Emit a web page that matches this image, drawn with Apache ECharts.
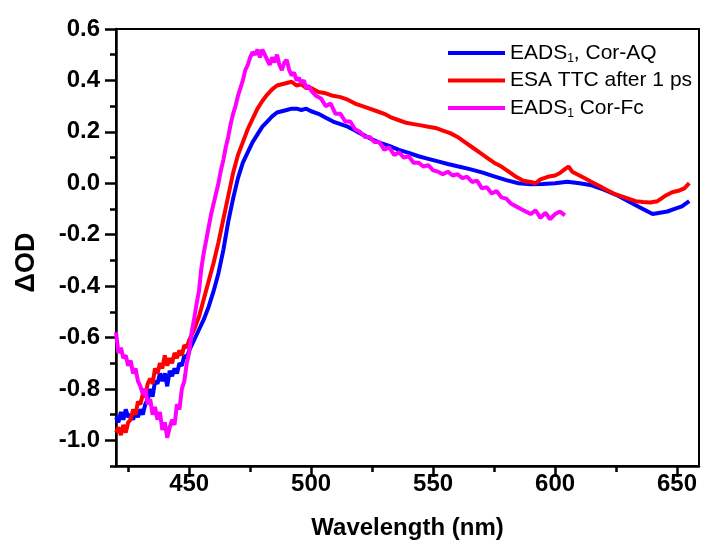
<!DOCTYPE html>
<html>
<head>
<meta charset="utf-8">
<title>Transient absorption</title>
<script src="https://cdn.jsdelivr.net/npm/echarts@6/dist/echarts.min.js"></script>
<style>
  body { margin: 0; background: #fff; }
  #chart { width: 707px; height: 551px; }
</style>
</head>
<body>
<div id="chart"></div>
<script>
// EADS1, Cor-AQ (blue)
const aqNm = [420,421,422,423,424,425,426,427,428,429,430,431,432,433,434,435,436,437,438,439,440,441,442,443,444,445,446,447,448,449,450,452,454,456,458,460,462,464,466,468,470,472,474,476,478,480,482,484,486,488,490,492,494,496,498,500,503,506,509,512,515,518,520,524,528,532,536,540,544,548,552,556,560,565,570,575,580,585,590,595,600,605,610,615,620,625,630,635,640,643,646,649,652,655]
const aqOD = [-0.91,-0.93,-0.89,-0.92,-0.88,-0.91,-0.90,-0.92,-0.89,-0.91,-0.88,-0.90,-0.86,-0.84,-0.80,-0.83,-0.77,-0.78,-0.74,-0.77,-0.74,-0.79,-0.73,-0.75,-0.72,-0.74,-0.70,-0.71,-0.67,-0.68,-0.65,-0.61,-0.57,-0.53,-0.48,-0.42,-0.35,-0.26,-0.15,-0.06,0.02,0.08,0.12,0.16,0.19,0.22,0.24,0.26,0.275,0.28,0.285,0.29,0.29,0.285,0.29,0.28,0.27,0.255,0.24,0.23,0.22,0.205,0.195,0.175,0.158,0.145,0.13,0.118,0.105,0.095,0.085,0.075,0.066,0.055,0.042,0.027,0.012,0.0,-0.004,-0.003,0.0,0.006,0.0,-0.008,-0.025,-0.045,-0.07,-0.095,-0.12,-0.115,-0.11,-0.10,-0.09,-0.07]

// ESA TTC after 1 ps (red)
const ttcNm = [420,421,422,423,424,425,426,427,428,429,430,431,432,433,434,435,436,437,438,439,440,441,442,443,444,445,446,447,448,449,450,452,454,456,458,460,462,464,466,468,470,472,474,476,478,480,482,484,486,488,490,492,494,496,498,500,503,506,509,512,515,518,521,524,527,530,533,536,539,542,545,548,551,554,557,560,563,566,569,572,575,578,581,584,587,590,592,594,597,600,602,604,605.5,607,609,612,615,618,621,624,627,630,633,636,639,642,645,648,651,653,655]
const ttcOD = [-0.97,-0.95,-0.98,-0.94,-0.97,-0.93,-0.92,-0.88,-0.90,-0.85,-0.86,-0.82,-0.83,-0.78,-0.76,-0.78,-0.72,-0.74,-0.70,-0.72,-0.67,-0.71,-0.68,-0.70,-0.66,-0.68,-0.65,-0.67,-0.63,-0.64,-0.61,-0.57,-0.52,-0.45,-0.38,-0.31,-0.23,-0.14,-0.05,0.04,0.11,0.16,0.21,0.25,0.29,0.32,0.345,0.365,0.38,0.385,0.39,0.395,0.38,0.385,0.37,0.37,0.355,0.35,0.34,0.335,0.325,0.31,0.30,0.29,0.28,0.27,0.255,0.245,0.235,0.23,0.225,0.22,0.215,0.205,0.195,0.18,0.16,0.14,0.12,0.10,0.08,0.065,0.045,0.025,0.01,0.005,0.0,0.015,0.025,0.03,0.04,0.055,0.065,0.045,0.035,0.02,0.005,-0.01,-0.025,-0.04,-0.05,-0.06,-0.07,-0.073,-0.075,-0.07,-0.05,-0.035,-0.028,-0.02,0.0]

// EADS1 Cor-Fc (magenta)
const fcNm = [420,420.5,421,422,423,424,425,426,427,428,429,430,431,432,433,434,435,436,437,438,439,440,441,442,443,444,445,446,447,448,449,450,451,452,453,454,455,456,457,458,459,460,461,462,463,464,465,466,467,468,469,470,471,472,473,474,475,476,477,478,479,480,481,482,483,484,485,486,487,488,489,490,491,492,493,494,495,496,497,498,499,500,502,504,506,508,510,512,514,516,518,520,522,524,526,528,530,532,534,536,538,540,542,544,546,548,550,552,554,556,558,560,562,564,566,568,570,572,574,576,578,580,582,584,586,588,590,592,594,596,598,600,602,604]
const fcOD = [-0.58,-0.62,-0.66,-0.64,-0.68,-0.67,-0.71,-0.69,-0.74,-0.72,-0.77,-0.79,-0.82,-0.80,-0.86,-0.84,-0.90,-0.87,-0.92,-0.89,-0.96,-0.93,-0.99,-0.95,-0.92,-0.94,-0.86,-0.88,-0.80,-0.77,-0.70,-0.66,-0.58,-0.53,-0.47,-0.42,-0.33,-0.27,-0.22,-0.17,-0.12,-0.08,-0.04,0.0,0.05,0.09,0.14,0.18,0.23,0.27,0.30,0.34,0.37,0.40,0.44,0.46,0.49,0.51,0.50,0.52,0.49,0.52,0.50,0.48,0.46,0.49,0.47,0.50,0.46,0.44,0.47,0.48,0.44,0.42,0.43,0.40,0.41,0.39,0.40,0.37,0.38,0.36,0.34,0.33,0.30,0.31,0.27,0.27,0.24,0.24,0.21,0.20,0.18,0.18,0.16,0.16,0.13,0.14,0.11,0.12,0.10,0.105,0.08,0.08,0.065,0.07,0.05,0.045,0.035,0.045,0.03,0.035,0.02,0.025,0.005,0.01,-0.02,-0.015,-0.04,-0.03,-0.055,-0.06,-0.08,-0.09,-0.10,-0.11,-0.12,-0.105,-0.135,-0.115,-0.14,-0.12,-0.11,-0.125]

const xMajor = [450, 500, 550, 600, 650]
const xMinor = [425, 475, 525, 575, 625]
const yMajor = [-1.0, -0.8, -0.6, -0.4, -0.2, 0.0, 0.2, 0.4, 0.6]
const yMinor = [-1.1, -0.9, -0.7, -0.5, -0.3, -0.1, 0.1, 0.3, 0.5]

const font = 'Liberation Sans, Arial, sans-serif'

function pairs(xs, ys) {
  return xs.map((x, i) => [x, ys[i]])
}

const chart = echarts.init(document.getElementById('chart'))

const line = (name, color, data) => ({
  name: name,
  type: 'line',
  data: data,
  xAxisIndex: 0,
  yAxisIndex: 0,
  showSymbol: false,
  symbol: 'none',
  lineStyle: { color: color, width: 4 },
  itemStyle: { color: color },
  animation: false
})

chart.setOption({
  animation: false,
  grid: {
    left: 116, right: 8, top: 29, bottom: 85,
    show: true, borderColor: '#000', borderWidth: 2
  },
  legend: {
    orient: 'vertical',
    left: 448,
    top: 41,
    padding: 0,
    icon: 'rect',
    itemWidth: 57,
    itemHeight: 4,
    itemGap: 3.5,
    textStyle: {
      color: '#000',
      fontFamily: font,
      fontSize: 21,
      lineHeight: 24,
      rich: {
        t: { fontFamily: font, fontSize: 21, lineHeight: 24, color: '#000' },
        s: { fontFamily: font, fontSize: 12, lineHeight: 8, verticalAlign: 'bottom', color: '#000' }
      }
    },
    formatter: function (name) {
      if (name === 'aq') return '{t|EADS}{s|1}{t|, Cor-AQ}'
      if (name === 'ttc') return '{t|ESA TTC after 1 ps}'
      return '{t|EADS}{s|1}{t| Cor-Fc}'
    }
  },
  xAxis: [{
    type: 'value',
    min: 420,
    max: 659,
    name: 'Wavelength (nm)',
    nameLocation: 'middle',
    nameGap: 50,
    nameTextStyle: { fontFamily: font, fontSize: 24, fontWeight: 'bold', color: '#000' },
    splitLine: { show: false },
    axisLine: { onZero: false, lineStyle: { color: '#000', width: 2.5 } },
    axisTick: { customValues: xMajor, length: 11, inside: false, lineStyle: { color: '#000', width: 2.5 } },
    axisLabel: {
      customValues: xMajor, margin: 6,
      fontFamily: font, fontSize: 24, fontWeight: 'bold', color: '#000'
    }
  }, {
    type: 'value',
    min: 420,
    max: 659,
    position: 'bottom',
    offset: 0,
    splitLine: { show: false },
    axisLine: { show: false, onZero: false },
    axisTick: { customValues: xMinor, length: 6, inside: false, lineStyle: { color: '#000', width: 2.5 } },
    axisLabel: { show: false }
  }],
  yAxis: [{
    type: 'value',
    min: -1.1,
    max: 0.6,
    name: 'ΔOD',
    nameLocation: 'middle',
    nameGap: 76,
    nameMoveOverlap: false,
    nameRotate: 90,
    nameTextStyle: {
      fontFamily: font, fontSize: 27, fontWeight: 'bold', color: '#000',
      padding: [0, 30, 0, 0]
    },
    splitLine: { show: false },
    axisLine: { show: true, onZero: false, lineStyle: { color: '#000', width: 2.5 } },
    axisTick: { show: true, customValues: yMajor, length: 11, inside: false, lineStyle: { color: '#000', width: 2.5 } },
    axisLabel: {
      customValues: yMajor, margin: 16,
      fontFamily: font, fontSize: 24, fontWeight: 'bold', color: '#000',
      formatter: v => v.toFixed(1)
    }
  }, {
    type: 'value',
    min: -1.1,
    max: 0.6,
    position: 'left',
    offset: 0,
    splitLine: { show: false },
    axisLine: { show: false, onZero: false },
    axisTick: { show: true, customValues: yMinor, length: 6, inside: false, lineStyle: { color: '#000', width: 2.5 } },
    axisLabel: { show: false }
  }],
  series: [
    line('aq', '#0000ff', pairs(aqNm, aqOD)),
    line('ttc', '#ff0000', pairs(ttcNm, ttcOD)),
    line('fc', '#ff00ff', pairs(fcNm, fcOD))
  ]
})
</script>
</body>
</html>
